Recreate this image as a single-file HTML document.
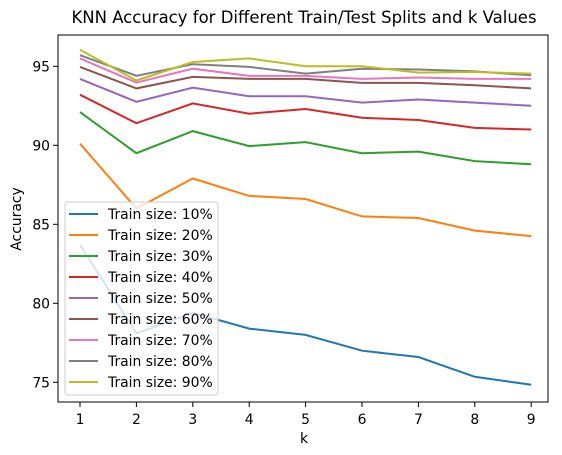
<!DOCTYPE html>
<html><head><meta charset="utf-8"><style>
html,body{margin:0;padding:0;background:#fff;}
svg{display:block;font-family:"DejaVu Sans","Liberation Sans",sans-serif;}
</style></head><body>
<svg id="chart" width="562" height="455" viewBox="0 0 562 455">
<text x="304" y="23" text-anchor="middle" font-size="16.5">KNN Accuracy for Different Train/Test Splits and k Values</text>
<g id="grid"></g>
<g id="series"></g>
<rect x="58" y="35" width="490" height="367" fill="none" stroke="#000" stroke-width="1"/>
<text x="304" y="443" text-anchor="middle" font-size="13.9">k</text>
<text transform="translate(21,219) rotate(-90)" text-anchor="middle" font-size="13.9">Accuracy</text>
<g id="legend"></g>
</svg>
<script>
const kValues = [1,2,3,4,5,6,7,8,9];
const seriesNames = ["Train size: 10%","Train size: 20%","Train size: 30%","Train size: 40%","Train size: 50%","Train size: 60%","Train size: 70%","Train size: 80%","Train size: 90%"];
const acc10 = [83.7,78.1,79.4,78.4,78.0,77.0,76.6,75.35,74.85];
const acc20 = [90.1,86.0,87.9,86.8,86.6,85.5,85.4,84.6,84.25];
const acc30 = [92.1,89.5,90.9,89.95,90.2,89.5,89.6,89.0,88.8];
const acc40 = [93.2,91.4,92.65,92.0,92.3,91.74,91.6,91.1,91.0];
const acc50 = [94.2,92.75,93.65,93.1,93.1,92.7,92.9,92.7,92.5];
const acc60 = [94.96,93.6,94.33,94.2,94.2,93.95,93.95,93.8,93.6];
const acc70 = [95.5,93.97,94.85,94.39,94.39,94.2,94.29,94.2,94.2];
const acc80 = [95.7,94.4,95.13,94.96,94.54,94.85,94.8,94.68,94.43];
const acc90 = [96.05,94.1,95.27,95.5,95.0,95.0,94.6,94.64,94.54];
const yTicks = [75,80,85,90,95];
const colors = ["#1f77b4","#ff7f0e","#2ca02c","#d62728","#9467bd","#8c564b","#e377c2","#7f7f7f","#bcbd22"];
const allSeries = [acc10,acc20,acc30,acc40,acc50,acc60,acc70,acc80,acc90];

const NS = "http://www.w3.org/2000/svg";
function xS(k){ return 80 + (k-1)*56.4; }
function yS(v){ return 66.3 + (95-v)*15.8; }
function mk(tag, attrs, parent){ const e=document.createElementNS(NS,tag); for(const a in attrs) e.setAttribute(a,attrs[a]); parent.appendChild(e); return e; }

const grid = document.getElementById('grid');
kValues.forEach(k=>{
  const t = mk('line',{x1:xS(k),x2:xS(k),y1:402,y2:407,stroke:'#000'},grid);
  
  
  const l = mk('text',{x:xS(k),y:424,'text-anchor':'middle','font-size':13.9},grid);
  l.textContent = k;
  
  
});
yTicks.forEach(v=>{
  const t = mk('line',{x1:53,x2:58,y1:yS(v),y2:yS(v),stroke:'#000'},grid);
  
  
  const l = mk('text',{x:50,y:yS(v)+5,'text-anchor':'end','font-size':13.9},grid);
  l.textContent = v;
  
  
});

const sg = document.getElementById('series');
allSeries.forEach((vals,i)=>{
  const pts = vals.map((v,j)=>xS(kValues[j]).toFixed(1)+','+yS(v).toFixed(1)).join(' ');
  const p = mk('polyline',{points:pts,fill:'none',stroke:colors[i],'stroke-width':2},sg);
  
  
});

const lg = document.getElementById('legend');
const box = mk('rect',{x:65,y:202,width:153,height:193,rx:3,fill:'#fff','fill-opacity':0.8,stroke:'#ccc'},lg);


seriesNames.forEach((n,i)=>{
  const y = 214 + i*21;
  const ln = mk('line',{x1:69,x2:98,y1:y,y2:y,stroke:colors[i],'stroke-width':2},lg);
  
  
  const t = mk('text',{x:108,y:y+5,'font-size':13.9},lg);
  t.textContent = n;
  
  
});
</script>
</body></html>
